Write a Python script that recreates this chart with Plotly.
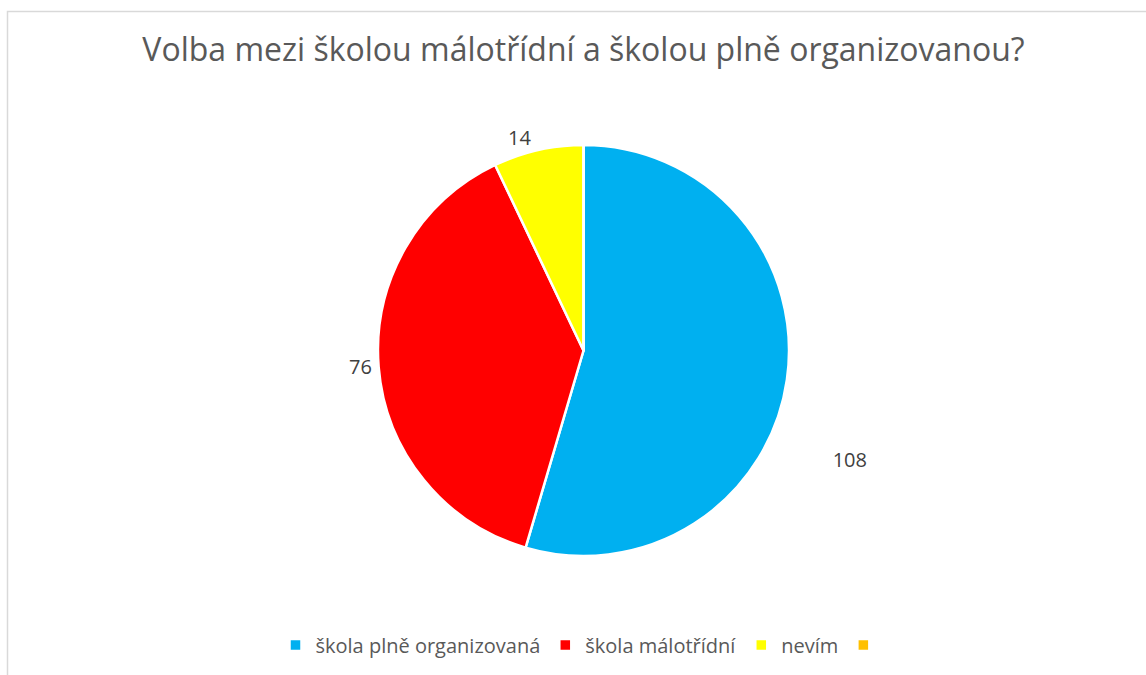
import plotly.graph_objects as go

W, H = 1146, 675
title = "Volba mezi školou málotřídní a školou plně organizovanou?"
labels = ["škola plně organizovaná", "škola málotřídní", "nevím", " "]
values = [108, 76, 14, 0]
colors = ["#00B0F0", "#FF0000", "#FFFF00", "#FFC000"]

pad = "&nbsp;<br>" * 6
cx, cy, r = 583.5, 350.5, 205.5
fig = go.Figure(go.Pie(
    labels=labels, values=values, sort=False, direction="clockwise", rotation=0,
    marker=dict(colors=colors, line=dict(color="white", width=2.5)),
    texttemplate=[pad + "%{value}", "%{value}", "%{value}", ""],
    textposition="outside", textfont=dict(size=20, color="#404040", family="Open Sans"),
    domain=dict(x=[(cx - r) / W, (cx + r) / W], y=[1 - (cy + r) / H, 1 - (cy - r) / H]),
    hoverinfo="label+value",
))
fig.update_layout(
    width=W, height=H, margin=dict(l=0, r=0, t=0, b=0),
    paper_bgcolor="white", plot_bgcolor="white",
    title=dict(text=title, x=583.5 / W, xanchor="center", y=1 - 50 / H, yanchor="middle",
               font=dict(size=32, color="#595959", family="Open Sans")),
    legend=dict(orientation="h", x=585 / W, xanchor="center", y=1 - 645 / H, yanchor="middle",
                font=dict(size=20, color="#595959", family="Open Sans"), itemwidth=30),
    showlegend=True,
    shapes=[dict(type="rect", xref="paper", yref="paper", x0=7.5 / W, x1=1.05, y0=-0.05, y1=1 - 11.5 / H,
                 line=dict(color="#D9D9D9", width=1.5), fillcolor="rgba(0,0,0,0)", layer="below")],
)
fig.write_html("out.html", config={"displayModeBar": False},
               post_script="document.body.style.margin='0';document.body.style.overflow='hidden';")
